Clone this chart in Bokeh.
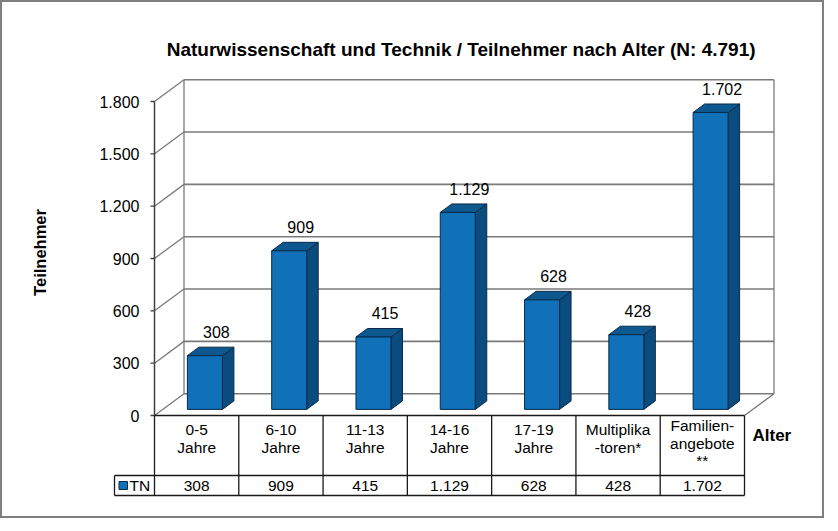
import numpy as np
from bokeh.plotting import figure
from bokeh.models import Range1d
from bokeh.core.properties import value
from bokeh.embed import file_html
from bokeh.resources import INLINE

# ---------------- data ----------------
categories = ["0-5\nJahre", "6-10\nJahre", "11-13\nJahre", "14-16\nJahre",
              "17-19\nJahre", "Multiplika\n-toren*", "Familien-\nangebote\n**"]
tn_values = [308, 909, 415, 1129, 628, 428, 1702]
series_name = "TN"
y_ticks = [0, 300, 600, 900, 1200, 1500, 1800]
y_tick_labels = ["0", "300", "600", "900", "1.200", "1.500", "1.800"]
title_text = "Naturwissenschaft und Technik / Teilnehmer nach Alter (N: 4.791)"
y_title = "Teilnehmer"
x_title = "Alter"


def de_num(v):
    return f"{v:,}".replace(",", ".")


tn_labels = [de_num(v) for v in tn_values]

# ---------------- layout / style ----------------
FONT = "Liberation Sans"
W, H = 824, 518
PXX = 84.286          # pixels per category slot
PXY = 0.174444        # pixels per value unit
X0 = -(162 - 8) / PXX
X1 = X0 + W / PXX
Y1 = (423 - 8) / PXY
Y0 = Y1 - H / PXY


def ux(px):
    return px / PXX


def uy(px):
    return px / PXY


DX, DY = ux(29.5), uy(21.8)          # depth of the 3-D box
DF, DB = 0.28, 0.67                  # bar depth (front, back) as fraction
BW = ux(35)                          # bar width
YMAX = y_ticks[-1]
n = len(tn_values)
c = np.arange(n) + 0.5
v = np.array(tn_values, dtype=float)

BAR_FRONT = "#1070b8"
BAR_SIDE = "#0b4c7f"
BAR_TOP = "#0e5890"
BAR_LINE = "#0a2a48"
WALL = "#7a7a7a"
TXT = "#000000"

p = figure(width=W, height=H, output_backend="svg", toolbar_location=None,
           x_range=Range1d(X0, X1), y_range=Range1d(Y0, Y1),
           x_axis_location=None, y_axis_location=None, min_border=0,
           background_fill_color="white", border_fill_color="white")
p.xgrid.visible = False
p.ygrid.visible = False
p.outline_line_color = "#7f7f7f"
p.outline_line_width = 3

# ---------------- walls & grid ----------------
tk = np.array(y_ticks, dtype=float)
# back-wall gridlines
p.segment(x0=[DX] * len(tk), y0=tk + DY, x1=[n + DX] * len(tk), y1=tk + DY,
          line_color=WALL, line_width=1.6)
# left-wall diagonals
p.segment(x0=[0] * len(tk), y0=tk, x1=[DX] * len(tk), y1=tk + DY,
          line_color=WALL, line_width=1.3)
# back wall verticals
p.segment(x0=[DX, n + DX], y0=[DY, DY], x1=[DX, n + DX], y1=[YMAX + DY, YMAX + DY],
          line_color=WALL, line_width=1.3)
# floor right diagonal
p.segment(x0=[n], y0=[0], x1=[n + DX], y1=[DY], line_color=WALL, line_width=1.3)
# front value axis
p.segment(x0=[0], y0=[0], x1=[0], y1=[YMAX], line_color="#404040", line_width=1.5)
p.segment(x0=[-ux(4)] * len(tk), y0=tk, x1=[0] * len(tk), y1=tk,
          line_color="#404040", line_width=1.3)
p.text(x=[-ux(15)] * len(tk), y=tk, text=y_tick_labels, text_font=value(FONT),
       text_font_size="16px", text_align="right", text_baseline="middle",
       text_color=TXT)

# ---------------- bars ----------------
xl = c - BW / 2
xr = c + BW / 2
side_xs = [[r + DF * DX, r + DB * DX, r + DB * DX, r + DF * DX] for r in xr]
side_ys = [[DF * DY, DB * DY, h + DB * DY, h + DF * DY] for h in v]
top_xs = [[l + DF * DX, r + DF * DX, r + DB * DX, l + DB * DX] for l, r in zip(xl, xr)]
top_ys = [[h + DF * DY, h + DF * DY, h + DB * DY, h + DB * DY] for h in v]
p.patches(xs=side_xs, ys=side_ys, fill_color=BAR_SIDE, line_color=BAR_LINE, line_width=1)
p.patches(xs=top_xs, ys=top_ys, fill_color=BAR_TOP, line_color=BAR_LINE, line_width=1)
p.quad(left=xl + DF * DX, right=xr + DF * DX, bottom=[DF * DY] * n, top=v + DF * DY,
       fill_color=BAR_FRONT, line_color=BAR_LINE, line_width=1)

p.text(x=c + DB * DX, y=v + DB * DY + uy(15), text=tn_labels, text_font=value(FONT),
       text_font_size="16px", text_align="center", text_baseline="middle",
       text_color=TXT)

# ---------------- data table ----------------
ROW1 = -uy(60)       # bottom of category row
ROW2 = -uy(80)       # bottom of value row
LEG = -ux(40)        # left edge of legend cell
TL = "#1a1a1a"
p.segment(x0=[0, LEG, LEG], y0=[0, ROW1, ROW2], x1=[n, n, n], y1=[0, ROW1, ROW2],
          line_color=TL, line_width=1.3)
p.segment(x0=list(range(n + 1)), y0=[0] * (n + 1), x1=list(range(n + 1)),
          y1=[ROW2] * (n + 1), line_color=TL, line_width=1.3)
p.segment(x0=[LEG], y0=[ROW1], x1=[LEG], y1=[ROW2], line_color=TL, line_width=1.3)

lx, ly, lt = [], [], []
for i, cat in enumerate(categories):
    lines = cat.split("\n")
    first = 14 - (len(lines) - 2) * 4
    step = 18 if len(lines) == 2 else 17.5
    for j, t in enumerate(lines):
        lx.append(c[i])
        ly.append(-uy(first + j * step))
        lt.append(t)
p.text(x=lx, y=ly, text=lt, text_font=value(FONT), text_font_size="15.5px",
       text_align="center", text_baseline="middle", text_color=TXT)

VROW = (ROW1 + ROW2) / 2
p.text(x=c, y=[VROW] * n, text=tn_labels, text_font=value(FONT),
       text_font_size="15.5px", text_align="center", text_baseline="middle",
       text_color=TXT)

# legend key in table
p.quad(left=[LEG + ux(4.5)], right=[LEG + ux(13)], bottom=[VROW - uy(4)],
       top=[VROW + uy(4)], fill_color=BAR_FRONT, line_color=BAR_LINE, line_width=1)
p.text(x=[LEG + ux(15)], y=[VROW], text=[series_name], text_font=value(FONT),
       text_font_size="15.5px", text_align="left", text_baseline="middle",
       text_color=TXT)

# ---------------- titles ----------------
p.text(x=[ux(469 - 162)], y=[uy(423 - 57)], text=[title_text], text_font=value(FONT),
       text_font_size="19px", text_font_style="bold", text_align="center",
       text_baseline="middle", text_color=TXT)
p.text(x=[ux(47 - 162)], y=[uy(423 - 260)], text=[y_title], text_font=value(FONT),
       text_font_size="16.5px", text_font_style="bold", text_align="center",
       text_baseline="middle", angle=np.pi / 2, text_color=TXT)
p.text(x=[ux(760 - 162)], y=[uy(423 - 443)], text=[x_title], text_font=value(FONT),
       text_font_size="17px", text_font_style="bold", text_align="left",
       text_baseline="middle", text_color=TXT)

open("out.html", "w").write(file_html(p, INLINE))
